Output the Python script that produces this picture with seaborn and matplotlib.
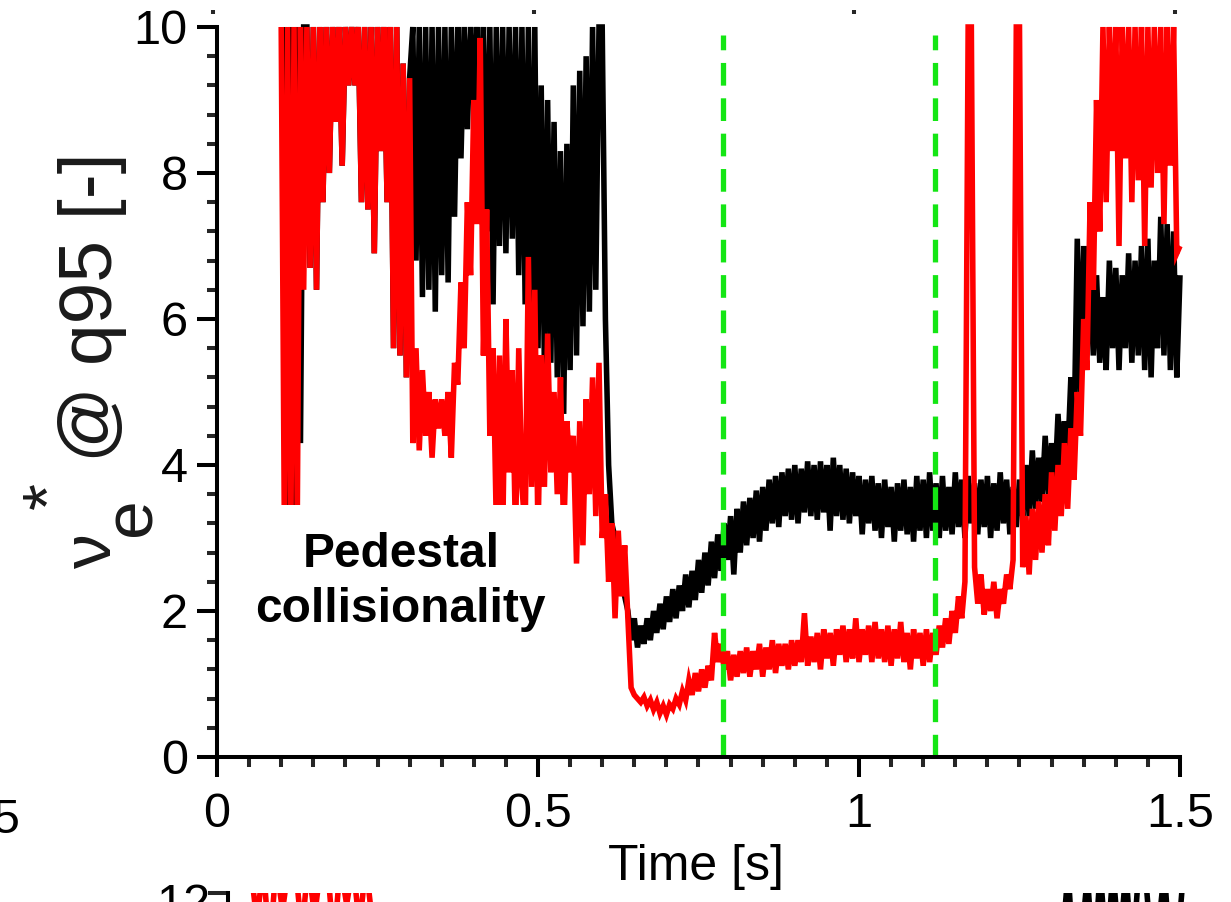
import numpy as np
import pandas as pd
import matplotlib
matplotlib.use("Agg")
import matplotlib.pyplot as plt
import seaborn as sns
from matplotlib.patches import Rectangle
from matplotlib.ticker import MultipleLocator

# ---------------- data ----------------
T_STEP = 0.005
BLACK_T0 = 0.105
RED_T0 = 0.100

black_vals = [
    10, 3.0, 10, 3.3, 10, 4.3, 10, 10, 6.7, 10,
    6.4, 10, 7.6, 10, 8.0, 10, 8.7, 10, 8.1, 10,
    9.2, 10, 9.2, 10, 7.6, 10, 7.5, 10, 6.9, 10,
    8.3, 10, 7.6, 10, 5.6, 10, 5.5, 9.5, 5.2, 9.3,
    10, 6.8, 10, 6.3, 10, 6.4, 10, 6.1, 10, 6.6,
    10, 6.5, 10, 7.4, 10, 8.2, 10, 8.6, 10, 9.0,
    10, 8.5, 10, 7.2, 10, 6.2, 10, 7.0, 10, 6.9,
    10, 7.1, 10, 6.6, 10, 6.2, 10, 5.8, 10, 5.6,
    9.2, 5.3, 9.0, 5.4, 8.7, 5.2, 8.3, 4.7, 8.4, 5.3,
    9.2, 5.5, 9.4, 5.9, 9.6, 6.1, 10, 6.4, 10, 10,
    6.0, 4.0, 3.2, 3.0, 2.7, 2.4, 2.2, 2.0, 1.6, 1.9,
    1.5, 1.8, 1.55, 1.9, 1.6, 2.0, 1.7, 2.1, 1.75, 2.2,
    1.85, 2.3, 1.9, 2.35, 2.0, 2.5, 2.05, 2.55, 2.15, 2.7,
    2.25, 2.8, 2.35, 2.95, 2.45, 3.05, 2.55, 3.2, 2.7, 3.3,
    2.5, 3.4, 2.8, 3.5, 2.9, 3.55, 3.0, 3.65, 2.95, 3.7,
    3.1, 3.8, 3.2, 3.85, 3.15, 3.9, 3.3, 3.95, 3.25, 4.0,
    3.2, 3.95, 3.35, 4.05, 3.3, 4.0, 3.25, 4.05, 3.35, 4.0,
    3.1, 4.1, 3.3, 4.0, 3.25, 3.95, 3.2, 3.9, 3.3, 3.85,
    3.05, 3.8, 3.2, 3.85, 3.1, 3.75, 3.0, 3.8, 3.15, 3.7,
    2.95, 3.75, 3.1, 3.8, 3.05, 3.7, 2.95, 3.85, 3.1, 3.8,
    3.0, 3.9, 3.1, 3.75, 3.0, 3.85, 3.1, 3.7, 3.05, 3.9,
    3.15, 3.8, 3.0, 3.85, 3.2, 3.75, 3.05, 3.8, 3.15, 3.85,
    3.0, 3.75, 3.1, 3.9, 3.2, 3.8, 3.05, 3.7, 3.15, 3.8,
    3.3, 4.0, 3.3, 4.2, 3.4, 4.1, 3.5, 4.4, 3.6, 4.3,
    3.7, 4.7, 3.9, 4.6, 4.1, 5.2, 4.4, 7.1, 5.0, 7.0,
    5.6, 6.5, 5.5, 6.6, 5.4, 6.3, 5.3, 6.8, 5.6, 6.7,
    5.3, 6.6, 5.6, 6.9, 5.4, 6.8, 5.5, 7.0, 5.3, 7.1,
    5.2, 6.8, 5.6, 7.4, 5.5, 7.3, 5.3, 7.2, 5.2, 6.6,
]

red_vals = [
    10, 3.0, 10, 3.0, 10, 3.2, 10, 6.4, 10, 6.7,
    10, 6.4, 10, 7.6, 10, 8.0, 10, 8.7, 10, 8.1,
    10, 9.2, 10, 9.2, 10, 7.6, 10, 7.5, 10, 6.9,
    10, 8.3, 10, 7.6, 10, 5.6, 10, 5.5, 9.5, 5.2,
    9.3, 4.3, 5.6, 4.2, 5.3, 4.4, 5.0, 4.1, 4.9, 4.5,
    4.9, 4.4, 5.0, 4.1, 5.4, 5.1, 6.5, 5.6, 7.6, 6.6,
    9.0, 7.3, 9.85, 5.5, 7.5, 4.4, 5.6, 3.2, 5.5, 3.0,
    6.0, 3.9, 5.3, 3.0, 5.6, 3.7, 3.1, 6.85, 3.7, 6.4,
    3.0, 5.5, 3.7, 5.8, 3.9, 5.0, 3.6, 5.2, 3.0, 4.6,
    3.9, 4.4, 2.65, 4.6, 2.9, 4.9, 3.6, 5.2, 3.3, 5.4,
    3.0, 3.6, 2.4, 3.2, 1.9, 3.1, 2.2, 2.9, 1.9, 0.95,
    0.85, 0.8, 0.75, 0.82, 0.7, 0.78, 0.65, 0.75, 0.6, 0.7,
    0.58, 0.72, 0.66, 0.8, 0.72, 0.9, 0.78, 1.05, 0.85, 1.15,
    0.9, 1.2, 0.95, 1.25, 1.05, 1.7, 1.3, 1.55, 1.2, 1.45,
    1.05, 1.4, 1.1, 1.45, 1.15, 1.5, 1.1, 1.45, 1.2, 1.55,
    1.1, 1.5, 1.2, 1.6, 1.15, 1.55, 1.25, 1.55, 1.2, 1.6,
    1.25, 1.6, 1.3, 1.97, 1.25, 1.65, 1.3, 1.7, 1.2, 1.75,
    1.35, 1.7, 1.25, 1.75, 1.4, 1.8, 1.3, 1.75, 1.35, 1.9,
    1.3, 1.75, 1.4, 1.8, 1.3, 1.85, 1.35, 1.75, 1.3, 1.8,
    1.25, 1.75, 1.35, 1.85, 1.3, 1.7, 1.2, 1.75, 1.35, 1.7,
    1.25, 1.75, 1.3, 1.7, 1.4, 1.8, 1.5, 1.9, 1.55, 2.0,
    1.7, 2.2, 1.9, 2.4, 10, 10, 2.6, 2.1, 2.5, 1.95,
    2.3, 2.0, 2.4, 1.9, 2.3, 2.1, 2.5, 2.3, 2.7, 10,
    10, 2.6, 3.3, 2.5, 3.4, 2.7, 3.5, 2.8, 3.6, 2.9,
    3.9, 3.1, 4.0, 3.3, 4.3, 3.4, 4.5, 3.8, 5.0, 4.4,
    6.0, 5.3, 7.6, 6.4, 9.0, 7.2, 10, 7.6, 10, 8.3,
    10, 7.0, 10, 8.2, 10, 7.6, 10, 7.9, 10, 7.0,
    10, 7.8, 10, 8.0, 10, 7.3, 10, 8.1, 10, 6.9,
    7.0,
]

green_times = [0.788, 1.118]

x_ticks = [0, 0.5, 1, 1.5]
x_tick_labels = ["0", "0.5", "1", "1.5"]
y_ticks = [0, 2, 4, 6, 8, 10]
y_tick_labels = ["0", "2", "4", "6", "8", "10"]

# fragments of the neighbouring panel below (only its top edge is visible)
LOW_STEP = 0.01
LOW_RED_T0 = 0.035
low_red_vals = [13, 12.0, 13, 11.5, 13, 12.2, 13, 13, 11.8, 13,
                12.1, 13, 13, 11.6, 13, 12.3, 13, 11.9, 13, 12.0]
LOW_BLACK_T0 = 1.30
low_black_vals = [11.5, 12.9, 11.0, 11.6, 12.8, 11.2, 12.9, 11.4, 12.9, 11.5,
                  12.9, 11.3, 12.9, 12.9, 11.5, 11.8, 12.9, 11.2, 11.5, 12.9]

# ---------------- figure ----------------
sns.set_theme(style="ticks")
plt.rcParams["font.family"] = ["Liberation Sans", "DejaVu Sans"]

W, H = 1231, 902
fig = plt.figure(figsize=(W / 100, H / 100), dpi=100)


def fx(px):
    return px / W


def fy(py):
    return 1 - py / H


AX_L, AX_R, AX_T, AX_B = 217, 1180, 27, 757
ax = fig.add_axes([fx(AX_L), fy(AX_B), (AX_R - AX_L) / W, (AX_B - AX_T) / H])

t_black = BLACK_T0 + T_STEP * np.arange(len(black_vals))
t_red = RED_T0 + T_STEP * np.arange(len(red_vals))
df = pd.concat([
    pd.DataFrame({"t": t_black, "v": black_vals, "s": "black"}),
    pd.DataFrame({"t": t_red, "v": red_vals, "s": "red"}),
], ignore_index=True)

LW = 4.0
AXW = 2.9
sns.lineplot(data=df, x="t", y="v", hue="s", hue_order=["black", "red"],
             palette={"black": "#000000", "red": "#ff0000"},
             estimator=None, sort=False, linewidth=LW, legend=False, ax=ax)
for ln in ax.get_lines():
    ln.set_clip_on(False)
    ln.set_zorder(2)
    ln.set_solid_joinstyle("miter")
    ln.set_solid_capstyle("butt")

for gt in green_times:
    ax.axvline(gt, ymin=0, ymax=0.989, color="#14e614", lw=3.8,
               ls=(0, (4.3, 2.4)), zorder=3)

# white background of the annotation
ax.add_patch(Rectangle((0.02, 1.0), 0.533, 2.45, facecolor="white",
                       edgecolor="none", zorder=4))
ax.text(0.2866, 2.603, "Pedestal", ha="center", va="baseline",
        fontsize=34.5, fontweight="bold", color="black", zorder=6)
ax.text(0.2850, 1.849, "collisionality", ha="center", va="baseline",
        fontsize=34.5, fontweight="bold", color="black", zorder=6)

ax.set_xlim(0, 1.5)
ax.set_ylim(0, 10)
ax.set_xticks(x_ticks)
ax.set_xticklabels(x_tick_labels)
ax.set_yticks(y_ticks)
ax.set_yticklabels(y_tick_labels)
ax.xaxis.set_minor_locator(MultipleLocator(0.05))
ax.yaxis.set_minor_locator(MultipleLocator(0.4))
ax.tick_params(which="major", direction="out", length=14.5, width=AXW,
               labelsize=35, colors="black")
ax.tick_params(which="minor", direction="out", length=7.5, width=AXW)
ax.tick_params(axis="x", which="major", pad=11)
ax.tick_params(axis="y", which="major", pad=6.5)
for side in ["top", "right"]:
    ax.spines[side].set_visible(False)
for side in ["left", "bottom"]:
    ax.spines[side].set_linewidth(AXW)
    ax.spines[side].set_color("black")
    ax.spines[side].set_zorder(5)
ax.patch.set_visible(False)

ax.set_xlabel("Time [s]", fontsize=36, va="baseline", color="black")
ax.xaxis.set_label_coords(0.497, -0.1685)
ax.set_ylabel("")

# y label built from pieces (nu, subscript e, superscript *, rest)
ykw = dict(rotation=90, rotation_mode="anchor", ha="left", va="baseline",
           color="#1a1a1a")
fig.text(fx(111), fy(568), "\u03bd", fontsize=50, **ykw)
fig.text(fx(151), fy(536), "e", fontsize=50, **ykw)
fig.text(fx(70), fy(509), "*", fontsize=50, **ykw)
fig.text(fx(112), fy(462), "@ q95 [-]", fontsize=54, **ykw)

# neighbouring panels' cut-off pieces
fig.text(fx(20), fy(833), "1.5", ha="right", va="baseline", fontsize=35,
         color="black")
fig.text(fx(210), fy(883), "12", ha="right", va="top", fontsize=35,
         color="black")

ax_top = fig.add_axes([fx(213), fy(10), 962 / W, 0.05])
ax_top.set_xlim(0, 1.5)
ax_top.set_xticks(x_ticks)
ax_top.set_xticklabels([])
ax_top.set_yticks([])
ax_top.tick_params(axis="x", direction="out", length=3, width=AXW)
for s in ax_top.spines.values():
    s.set_visible(False)
ax_top.patch.set_visible(False)

ax_low = fig.add_axes([fx(228), fy(893) - 0.8, (1190 - 228) / W, 0.8])
t_lr = LOW_RED_T0 + LOW_STEP * np.arange(len(low_red_vals))
t_lb = LOW_BLACK_T0 + LOW_STEP * np.arange(len(low_black_vals))
dfl = pd.concat([
    pd.DataFrame({"t": t_lb, "v": low_black_vals, "s": "black"}),
    pd.DataFrame({"t": t_lr, "v": low_red_vals, "s": "red"}),
], ignore_index=True)
sns.lineplot(data=dfl, x="t", y="v", hue="s", hue_order=["black", "red"],
             palette={"black": "#000000", "red": "#ff0000"}, units="s",
             estimator=None, sort=False, linewidth=LW, legend=False, ax=ax_low)
ax_low.set_xlim(0, 1.5)
ax_low.set_ylim(0, 12.5)
ax_low.set_yticks([12.5])
ax_low.set_yticklabels([])
ax_low.set_xticks([])
ax_low.set_xlabel("")
ax_low.set_ylabel("")
ax_low.tick_params(axis="y", direction="out", length=14.5, width=AXW)
for side in ["top", "right", "bottom"]:
    ax_low.spines[side].set_visible(False)
ax_low.spines["left"].set_linewidth(AXW)
ax_low.spines["left"].set_color("black")
ax_low.patch.set_visible(False)

fig.savefig("out.png", dpi=100)
